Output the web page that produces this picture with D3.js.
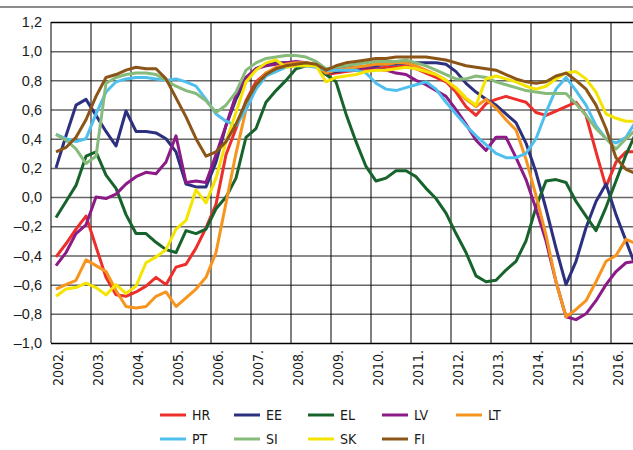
<!DOCTYPE html>
<html>
<head>
<meta charset="utf-8">
<script src="https://cdn.jsdelivr.net/npm/d3@7"></script>
<style>
  body { margin: 0; background: #fff; }
  svg { display: block; font-family: "Liberation Sans Narrow", "DejaVu Sans Condensed", "DejaVu Sans", sans-serif; font-stretch: condensed; }
</style>
</head>
<body>
<svg id="chart" width="633" height="450"></svg>
<script>
// quarterly values, 2002 Q1 .. 2016 Q3
var startYear = 2002;
var years = [2002, 2003, 2004, 2005, 2006, 2007, 2008, 2009, 2010, 2011, 2012, 2013, 2014, 2015, 2016];
var yTicks = [1.2, 1.0, 0.8, 0.6, 0.4, 0.2, 0.0, -0.2, -0.4, -0.6, -0.8, -1.0];

var countries = ["HR", "EE", "EL", "LV", "LT", "PT", "SI", "SK", "FI"];
var colors = ["#ec2f2b", "#2d2f7f", "#17632c", "#8c1a87", "#f7941d", "#4fc0ee", "#86bb7b", "#f5e400", "#8a5517"];

var HR = [-0.41, -0.32, -0.22, -0.13, -0.34, -0.55, -0.67, -0.68, -0.65, -0.61, -0.55, -0.60, -0.48, -0.46, -0.35, -0.21, -0.05,
  0.29, 0.47, 0.66, 0.79, 0.85, 0.88,
  0.90, 0.91, 0.91, 0.90, 0.84, 0.85, 0.86, 0.87, 0.88, 0.88, 0.89, 0.89,
  0.90, 0.88, 0.85, 0.82, 0.79, 0.72, 0.62, 0.56, 0.64, 0.67, 0.69, 0.67, 0.65, 0.58, 0.56, 0.59, 0.62, 0.65, 0.56, 0.31, 0.07, 0.24, 0.31, 0.31];
var EE = [0.20, 0.42, 0.63, 0.67, 0.56, 0.45, 0.35, 0.59, 0.45, 0.45, 0.44, 0.40, 0.31, 0.09, 0.07, 0.07, 0.24,
  0.49, 0.67, 0.81, 0.88, 0.91, 0.92,
  0.92, 0.92, 0.91, 0.90, 0.85, 0.86, 0.87, 0.88, 0.89, 0.90, 0.91, 0.91,
  0.92, 0.92, 0.92, 0.92, 0.91, 0.86, 0.78, 0.72, 0.67, 0.63, 0.57, 0.51, 0.37, 0.17, -0.08, -0.35, -0.60, -0.44, -0.21, -0.03, 0.09, -0.12, -0.30, -0.48];
var EL = [-0.14, -0.03, 0.08, 0.28, 0.31, 0.15, 0.06, -0.12, -0.25, -0.25, -0.31, -0.36, -0.38, -0.23, -0.25, -0.22, -0.08,
  0.00, 0.13, 0.41, 0.47, 0.65, 0.73,
  0.80, 0.88, 0.90, 0.90, 0.84, 0.79, 0.57, 0.38, 0.21, 0.11, 0.13, 0.18,
  0.18, 0.14, 0.06, -0.01, -0.11, -0.25, -0.38, -0.54, -0.58, -0.57, -0.50, -0.44, -0.30, -0.07, 0.11, 0.12, 0.10, -0.03, -0.13, -0.23, -0.07, 0.11, 0.29, 0.44];
var LV = [-0.47, -0.38, -0.25, -0.19, 0.00, -0.01, 0.02, 0.09, 0.14, 0.17, 0.16, 0.24, 0.42, 0.10, 0.11, 0.10, 0.29,
  0.49, 0.70, 0.82, 0.88, 0.90, 0.91,
  0.92, 0.93, 0.92, 0.90, 0.86, 0.88, 0.89, 0.89, 0.89, 0.88, 0.87, 0.85,
  0.84, 0.80, 0.77, 0.73, 0.69, 0.60, 0.50, 0.39, 0.32, 0.41, 0.41, 0.27, 0.12, -0.08, -0.30, -0.58, -0.82, -0.84, -0.80, -0.71, -0.60, -0.51, -0.45, -0.44];
var LT = [-0.63, -0.60, -0.57, -0.43, -0.47, -0.51, -0.64, -0.75, -0.76, -0.75, -0.68, -0.65, -0.75, -0.69, -0.63, -0.55, -0.38,
  -0.04, 0.30, 0.60, 0.77, 0.85, 0.89,
  0.91, 0.92, 0.92, 0.91, 0.85, 0.87, 0.88, 0.89, 0.90, 0.91, 0.91, 0.92,
  0.92, 0.90, 0.87, 0.84, 0.80, 0.74, 0.67, 0.62, 0.67, 0.61, 0.53, 0.46, 0.26, 0.01, -0.26, -0.58, -0.82, -0.77, -0.71, -0.58, -0.44, -0.40, -0.29, -0.32];
var PT = [0.43, 0.40, 0.38, 0.40, 0.57, 0.72, 0.79, 0.81, 0.82, 0.82, 0.81, 0.80, 0.81, 0.79, 0.76, 0.67, 0.57,
  0.52, 0.49, 0.60, 0.74, 0.83, 0.86,
  0.89, 0.90, 0.90, 0.89, 0.87, 0.87, 0.87, 0.87, 0.85, 0.78, 0.74, 0.73,
  0.75, 0.77, 0.79, 0.74, 0.65, 0.57, 0.49, 0.42, 0.36, 0.30, 0.27, 0.27, 0.30, 0.40, 0.58, 0.74, 0.82, 0.73, 0.63, 0.49, 0.40, 0.37, 0.41, 0.52];
var SI = [0.43, 0.39, 0.33, 0.23, 0.28, 0.78, 0.82, 0.84, 0.85, 0.85, 0.84, 0.80, 0.76, 0.73, 0.71, 0.66, 0.58,
  0.63, 0.72, 0.87, 0.92, 0.95, 0.96,
  0.97, 0.97, 0.96, 0.93, 0.88, 0.89, 0.90, 0.91, 0.92, 0.93, 0.93, 0.93,
  0.94, 0.92, 0.90, 0.87, 0.84, 0.81, 0.81, 0.83, 0.82, 0.79, 0.77, 0.75, 0.73, 0.72, 0.71, 0.71, 0.71, 0.64, 0.56, 0.47, 0.40, 0.33, 0.40, 0.46];
var SK = [-0.68, -0.63, -0.62, -0.59, -0.62, -0.67, -0.60, -0.66, -0.61, -0.45, -0.41, -0.36, -0.22, -0.16, 0.05, -0.04, 0.13,
  0.38, 0.58, 0.79, 0.87, 0.92, 0.94,
  0.89, 0.90, 0.90, 0.90, 0.79, 0.82, 0.83, 0.84, 0.86, 0.87, 0.87, 0.88,
  0.89, 0.88, 0.86, 0.84, 0.80, 0.75, 0.68, 0.63, 0.81, 0.83, 0.81, 0.79, 0.76, 0.74, 0.76, 0.81, 0.85, 0.86, 0.81, 0.72, 0.57, 0.54, 0.52, 0.52];
var FI = [0.31, 0.34, 0.41, 0.53, 0.69, 0.82, 0.84, 0.87, 0.89, 0.88, 0.88, 0.81, 0.68, 0.55, 0.40, 0.28, 0.31,
  0.38, 0.50, 0.65, 0.77, 0.84, 0.88,
  0.90, 0.91, 0.92, 0.91, 0.87, 0.90, 0.92, 0.93, 0.94, 0.95, 0.95, 0.96,
  0.96, 0.96, 0.96, 0.95, 0.94, 0.92, 0.90, 0.89, 0.88, 0.87, 0.84, 0.81, 0.79, 0.78, 0.79, 0.83, 0.85, 0.80, 0.74, 0.63, 0.47, 0.27, 0.19, 0.16];

var seriesValues = [HR, EE, EL, LV, LT, PT, SI, SK, FI];

var svg = d3.select("#chart");
var plotLeft = 51, plotTop = 22, plotBottom = 343, plotWidth = 600;

var x = d3.scaleLinear().domain([2002, 2017]).range([plotLeft, plotLeft + plotWidth]);
var y = d3.scaleLinear().domain([-1.0, 1.2]).range([plotBottom, plotTop]);

var locale = d3.formatLocale({decimal: ",", thousands: ".", grouping: [3], currency: ["", ""], minus: "\u2013"});
var fmt = locale.format(".1f");

// grey rule at the very top
svg.append("line")
    .attr("x1", 0).attr("x2", 633)
    .attr("y1", 7).attr("y2", 7)
    .attr("stroke", "#8c8c8c")
    .attr("stroke-width", 2);

svg.append("clipPath").attr("id", "plotClip")
  .append("rect")
    .attr("x", plotLeft).attr("y", plotTop - 2)
    .attr("width", plotWidth).attr("height", plotBottom - plotTop + 4);

// horizontal gridlines (grey) + y labels
var yAxis = svg.append("g")
    .attr("transform", "translate(" + plotLeft + ",0)")
    .call(d3.axisLeft(y).tickValues(yTicks).tickFormat(fmt).tickSize(-plotWidth).tickPadding(9));
yAxis.select(".domain").remove();
yAxis.selectAll(".tick line")
    .attr("stroke", function(d) { return (d === 1.2 || d === -1.0) ? "#000" : "#666"; })
    .attr("stroke-width", 1.5);
yAxis.selectAll(".tick text")
    .attr("font-size", 14.5)
    .attr("fill", "#1a1a1a")
    .attr("font-family", null);

// vertical year gridlines (black)
svg.append("g")
  .selectAll("line")
  .data(years)
  .join("line")
    .attr("x1", function(d) { return x(d); })
    .attr("x2", function(d) { return x(d); })
    .attr("y1", plotTop).attr("y2", plotBottom)
    .attr("stroke", "#000")
    .attr("stroke-width", 1);

// x labels, rotated
svg.append("g")
  .selectAll("text")
  .data(years)
  .join("text")
    .attr("transform", function(d) { return "translate(" + (x(d) + 7) + "," + (plotBottom + 7) + ") rotate(-90)"; })
    .attr("text-anchor", "end")
    .attr("dy", "0.35em")
    .attr("font-size", 14)
    .attr("fill", "#1a1a1a")
    .text(function(d) { return d + "."; });

// lines
var line = d3.line()
    .x(function(d, i) { return x(startYear + (i + 0.5) / 4); })
    .y(function(d) { return y(d); });

svg.append("g")
    .attr("clip-path", "url(#plotClip)")
  .selectAll("path")
  .data(seriesValues)
  .join("path")
    .attr("d", line)
    .attr("fill", "none")
    .attr("stroke", function(d, i) { return colors[i]; })
    .attr("stroke-width", 3)
    .attr("stroke-linejoin", "round");

// legend, two rows
var legend = svg.append("g");
var items = legend.selectAll("g")
  .data(countries)
  .join("g")
    .attr("transform", function(d, i) {
      return "translate(" + (160 + (i % 5) * 74) + "," + (415 + Math.floor(i / 5) * 24) + ")";
    });
items.append("line")
    .attr("x1", 0).attr("x2", 26)
    .attr("stroke", function(d, i) { return colors[i]; })
    .attr("stroke-width", 3);
items.append("text")
    .attr("x", 32)
    .attr("dy", "0.35em")
    .attr("font-size", 14)
    .attr("fill", "#1a1a1a")
    .text(function(d) { return d; });
</script>
</body>
</html>
